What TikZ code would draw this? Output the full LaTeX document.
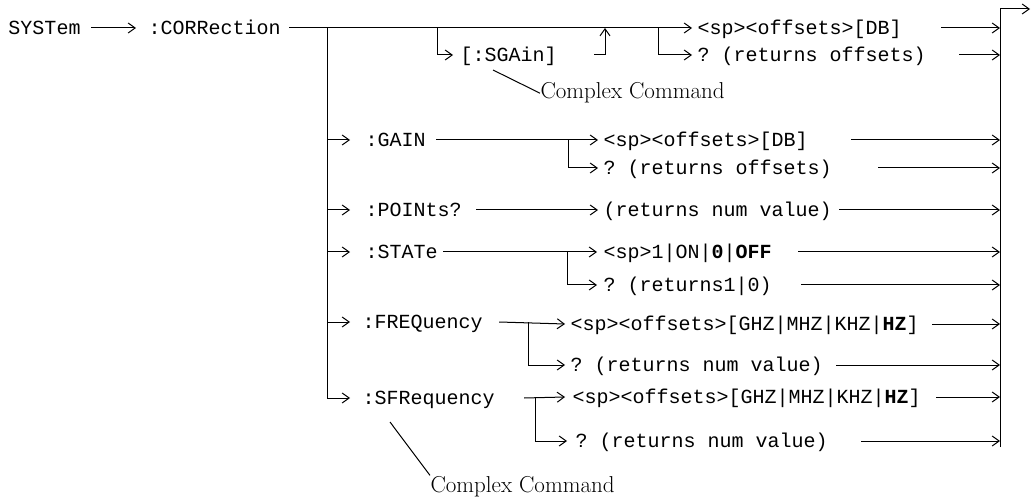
\documentclass[tikz,border=0pt]{standalone}
\usepackage{fontspec}
\setmonofont{Liberation Mono}
\usetikzlibrary{arrows.meta, positioning, calc}

\begin{document}
\begin{tikzpicture}[
    x=1pt, y=-1pt,
    line width=1pt,
    cmd/.style={font=\fontsize{20}{24}\selectfont\ttfamily, inner sep=0pt,
                text height=13pt, text depth=0pt, anchor=west},
    note/.style={font=\fontsize{23}{27}\selectfont, inner sep=0pt, anchor=base west},
    arr/.style={-{Straight Barb[length=7pt,width=10pt]}},
  ]
  \useasboundingbox (0,0) rectangle (1032,502);

  % command tree, rows at their y positions
  \node[cmd] (sys)     at (8,28)    {SYSTem};
  \node[cmd] (corr)    at (148,28)  {:CORRection};
  \node[cmd] (sgain)   at (460,55)  {[:SGAin]};
  \node[cmd] (db1)     at (697,28)  {<sp><offsets>[DB]};
  \node[cmd] (qoff1)   at (697,55)  {? (returns offsets)};
  \node[note] (cc1)    at (540,99)  {Complex Command};

  \node[cmd] (gain)    at (365,140) {:GAIN};
  \node[cmd] (db2)     at (603,140) {<sp><offsets>[DB]};
  \node[cmd] (qoff2)   at (603,168) {? (returns offsets)};
  \node[cmd] (points)  at (365,210) {:POINts?};
  \node[cmd] (numval1) at (603,210) {(returns num value)};
  \node[cmd] (state)   at (365,252) {:STATe};
  \node[cmd] (onoff)   at (603,252) {<sp>1|ON|\textbf{0}|\textbf{OFF}};
  \node[cmd] (q10)     at (603,285) {? (returns1|0)};
  \node[cmd] (freq)    at (362,322) {:FREQuency};
  \node[cmd] (hz1)     at (570,324) {<sp><offsets>[GHZ|MHZ|KHZ|\textbf{HZ}]};
  \node[cmd] (numval2) at (570,365) {? (returns num value)};
  \node[cmd] (sfreq)   at (362,398) {:SFRequency};
  \node[cmd] (hz2)     at (572,397) {<sp><offsets>[GHZ|MHZ|KHZ|\textbf{HZ}]};
  \node[cmd] (numval3) at (575,441) {? (returns num value)};
  \node[note] (cc2)    at (430,492) {Complex Command};

  % junctions
  \coordinate (lt)      at (327,28);
  \coordinate (sgsplit) at (437,28);
  \coordinate (sgjoin)  at (605,28);
  \coordinate (qsplit)  at (658,28);
  \coordinate (gsplit)  at (568,140);
  \coordinate (ssplit)  at (567,252);
  \coordinate (fsplit)  at (528,322);
  \coordinate (sfsplit) at (535,398);
  \coordinate (busT)    at (1000,9);
  \coordinate (busB)    at (1000,447);
  \coordinate (out)     at (1030,9);
  \coordinate (cc1from) at (493,70);
  \coordinate (cc2from) at (390,422);

  % top line
  \draw[arr] ([xshift=10]sys.east) -- ([xshift=-12]corr.west);
  \draw[arr] ([xshift=8]corr.east) -- ([xshift=-5]db1.west);
  \draw[arr] (sgsplit) |- ([xshift=-7]sgain.west);
  \draw[arr] ([xshift=37]sgain.east) -| (sgjoin);
  \draw[arr] (qsplit) |- ([xshift=-5]qoff1.west);
  \draw (cc1from) -- (cc1.west);

  % left branch line
  \draw[arr] (lt) |- ([xshift=-12]sfreq.west);
  \foreach \n/\s in {gain/15, points/15, state/15, freq/12}
    \draw[arr] (\n.west -| lt) -- ([xshift=-\s]\n.west);

  % subcommands
  \draw[arr] ([xshift=10]gain.east) -- ([xshift=-5]db2.west);
  \draw[arr] (gsplit) |- ([xshift=-5]qoff2.west);
  \draw[arr] ([xshift=14]points.east) -- ([xshift=-5]numval1.west);
  \draw[arr] ([xshift=5]state.east) -- ([xshift=-6]onoff.west);
  \draw[arr] (ssplit) |- ([xshift=-6]q10.west);
  \draw[arr] ([xshift=16]freq.east) -- ([xshift=-5]hz1.west);
  \draw[arr] (fsplit) |- ([xshift=-5]numval2.west);
  \draw[arr] ([xshift=29]sfreq.east) -- ([xshift=-7]hz2.west);
  \draw[arr] (sfsplit) |- ([xshift=-8]numval3.west);
  \draw (cc2from) -- (cc2.north west);

  % right bus
  \draw (busB) -- (busT);
  \draw[arr] (busT) -- (out);
  \foreach \n/\s in {db1/39, qoff1/33, db2/43, qoff2/46, numval1/7, onoff/26,
                     q10/29, hz1/13, numval2/13, hz2/15, numval3/33}
    \draw[arr] ([xshift=\s]\n.east) -- (\n.east -| busT);
\end{tikzpicture}
\end{document}
